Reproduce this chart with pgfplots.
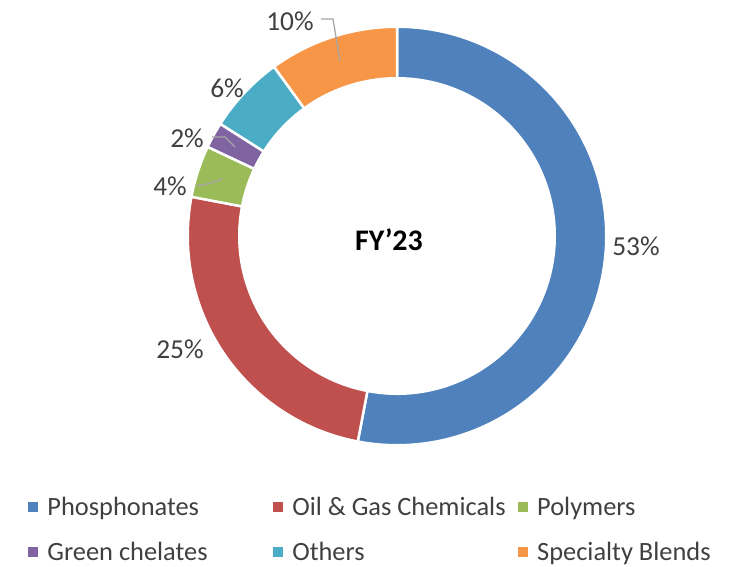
\documentclass[border=0pt]{standalone}
\usepackage{pgfplots}
\pgfplotsset{compat=1.18}
\usepackage{fontspec}
\setmainfont{Carlito}
\definecolor{cBlue}{HTML}{4F81BD}
\definecolor{cRed}{HTML}{C0504D}
\definecolor{cGreen}{HTML}{9BBB59}
\definecolor{cPurple}{HTML}{8064A2}
\definecolor{cCyan}{HTML}{4BACC6}
\definecolor{cOrange}{HTML}{F79646}
\definecolor{txt}{HTML}{404040}
\definecolor{lead}{HTML}{A6A6A6}
% #1 = cumulative share before this slice (%), #2 = share (%), #3 = colour
\newcommand{\donutwedge}[3]{%
  \pgfmathsetmacro{\wA}{90-3.6*#1}%
  \pgfmathsetmacro{\wB}{90-3.6*(#1+#2)}%
  \edef\wTemp{\noexpand\fill[#3, draw=white, line width=2.5bp, line join=miter]
    ([shift={(\wA:209.25bp)}]axis cs:397,331)
    arc[start angle=\wA, end angle=\wB, radius=209.25bp]
    -- ([shift={(\wB:157.75bp)}]axis cs:397,331)
    arc[start angle=\wB, end angle=\wA, radius=157.75bp] -- cycle;}%
  \wTemp}
\newcommand{\lgd}[1]{\makebox[225.5bp][l]{\rule[-5.5bp]{0pt}{24bp}#1}}
\begin{document}
\begin{tikzpicture}
\begin{axis}[
  scale only axis, width=738bp, height=567bp,
  xmin=0, xmax=738, ymin=0, ymax=567,
  hide axis, clip=false,
  legend columns=3,
  legend cell align=left,
  legend style={draw=none, fill=none, inner sep=0pt, outer sep=0pt,
    nodes={inner sep=0pt, outer sep=0pt},
    column sep=0pt, row sep=25bp,
    /tikz/every odd column/.append style={column sep=10bp},
    font=\fontsize{26.5}{30}\selectfont, text=txt,
    at={(axis cs:28,37.5)}, anchor=west},
]
% slices: Phosphonates 53, Oil & Gas 25, Polymers 4, Green chelates 2, Others 6, Specialty Blends 10
\donutwedge{0}{53}{cBlue}
\donutwedge{53}{25}{cRed}
\donutwedge{78}{4}{cGreen}
\donutwedge{82}{2}{cPurple}
\donutwedge{84}{6}{cCyan}
\donutwedge{90}{10}{cOrange}

\addlegendimage{legend image code/.code={\fill[cBlue] (0bp,-4.5bp) rectangle (9bp,4.5bp);}}
\addlegendentry{\lgd{Phosphonates}}
\addlegendimage{legend image code/.code={\fill[cRed] (0bp,-4.5bp) rectangle (9bp,4.5bp);}}
\addlegendentry{\lgd{Oil \& Gas Chemicals}}
\addlegendimage{legend image code/.code={\fill[cGreen] (0bp,-4.5bp) rectangle (9bp,4.5bp);}}
\addlegendentry{\rule[-5.5bp]{0pt}{24bp}Polymers}
\addlegendimage{legend image code/.code={\fill[cPurple] (0bp,-4.5bp) rectangle (9bp,4.5bp);}}
\addlegendentry{\lgd{Green chelates}}
\addlegendimage{legend image code/.code={\fill[cCyan] (0bp,-4.5bp) rectangle (9bp,4.5bp);}}
\addlegendentry{\lgd{Others}}
\addlegendimage{legend image code/.code={\fill[cOrange] (0bp,-4.5bp) rectangle (9bp,4.5bp);}}
\addlegendentry{\rule[-5.5bp]{0pt}{24bp}Specialty Blends}

% leader lines
\draw[lead, line width=1.3bp] (axis cs:321,548) -- (axis cs:333,548) -- (axis cs:340,506);
\draw[lead, line width=1.3bp] (axis cs:212,430) -- (axis cs:225,430) -- (axis cs:235,420);
\draw[lead, line width=1.3bp] (axis cs:197,382) -- (axis cs:208,383) -- (axis cs:222,388);

% data labels
\begin{scope}[every node/.style={font=\fontsize{27.5}{30}\selectfont, text=txt, inner sep=0pt}]
\node at (axis cs:636,321) {53\%};
\node at (axis cs:180,218) {25\%};
\node at (axis cs:170,381) {4\%};
\node at (axis cs:187,429) {2\%};
\node at (axis cs:227,479) {6\%};
\node at (axis cs:290,546) {10\%};
\end{scope}
\node[font=\fontsize{30}{32}\selectfont\bfseries, text=black, inner sep=0pt] at (axis cs:389,327) {FY’23};
\end{axis}
\pgfresetboundingbox
\path (0,0) rectangle (738bp,567bp);
\end{tikzpicture}
\end{document}
